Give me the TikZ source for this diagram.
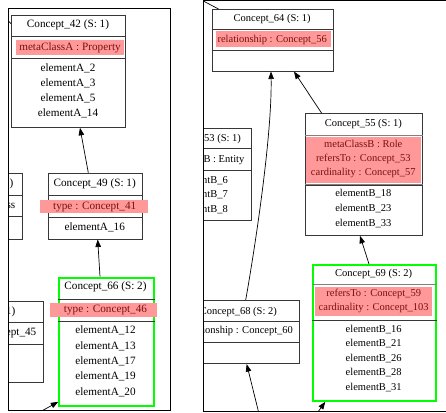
\documentclass[tikz,border=0pt]{standalone}
\usepackage{fontspec}
\setmainfont{Liberation Serif}
\usetikzlibrary{arrows.meta}
\definecolor{hlred}{RGB}{255,153,153}
\definecolor{hltext}{RGB}{125,15,15}
\definecolor{boxgray}{RGB}{55,55,55}
\definecolor{sepgray}{RGB}{128,128,128}
\definecolor{selgreen}{RGB}{0,255,0}

\begin{document}
\begin{tikzpicture}[x=1pt, y=-1pt, font=\fontsize{11.2}{15}\selectfont,
  concept/.style={draw=boxgray, line width=0.8pt, inner sep=0pt, anchor=north west},
  selected/.style={draw=selgreen, line width=1.8pt},
  lbl/.style={inner sep=0pt, text height=7.5pt, text depth=2.5pt},
  attr/.style={lbl, text=hltext},
  hl/.style={fill=hlred},
  sep/.style={draw=boxgray, line width=0.8pt},
  thicksep/.style={draw=sepgray, line width=1.6pt},
  edge/.style={line width=0.7pt, -{Triangle[length=7.5pt, width=5.5pt]}},
  frame/.style={line width=0.8pt}]
\useasboundingbox (0,0) rectangle (446,412);

% left cut-out
\begin{scope}
\clip (8,8) rectangle (170.5,410.5);
% Concept_42
\node[concept, minimum width=114pt, minimum height=112.3pt] (c42) at (11,14.7) {};
\draw[sep] ([yshift=-22pt]c42.north west) -- ([yshift=-22pt]c42.north east);
\draw[sep] ([yshift=-44pt]c42.north west) -- ([yshift=-44pt]c42.north east);
\fill[hl] (16,40) rectangle (124,55);
\node[lbl] (c42t) at (68,25.5) {Concept\_42 (S: 1)};
\node[attr] (c42a) at (70,47.5) {metaClassA : Property};
\foreach \e [count=\i] in {2,3,5,14}
  \node[lbl] (c42e\i) at (68,54.3+15*\i) {elementA\_\e};
% Concept_49
\node[concept, minimum width=94pt, minimum height=66pt] (c49) at (47.7,172.7) {};
\draw[sep] ([yshift=-22.6pt]c49.north west) -- ([yshift=-22.6pt]c49.north east);
\draw[sep] ([yshift=-44.6pt]c49.north west) -- ([yshift=-44.6pt]c49.north east);
\fill[hl] (40,200) rectangle (147.7,213.3);
\node[lbl] (c49t) at (94.7,183.8) {Concept\_49 (S: 1)};
\node[attr] (c49a) at (94.7,206.6) {type : Concept\_41};
\node[lbl] (c49e1) at (94.7,227.8) {elementA\_16};
% box cut by the left edge
\node[concept, anchor=north east, minimum width=100pt, minimum height=66pt] (cL1) at (22.7,172.7) {};
\draw[sep] ([yshift=-22.6pt]cL1.north west) -- ([yshift=-22.6pt]cL1.north east);
\draw[sep] ([yshift=-44pt]cL1.north west) -- ([yshift=-44pt]cL1.north east);
\node[lbl, anchor=east] (cL1t) at (13.5,183.8) {(S: 1)};
\node[lbl, anchor=east] (cL1a) at (15.5,206.4) {Class};
% Concept_66
\node[concept, selected, minimum width=94.4pt, minimum height=128.3pt] (c66) at (58.3,276.7) {};
\draw[sep] ([yshift=-22.6pt]c66.north west) -- ([yshift=-22.6pt]c66.north east);
\draw[sep] ([yshift=-44.3pt]c66.north west) -- ([yshift=-44.3pt]c66.north east);
\fill[hl] (50,303.3) rectangle (157.3,316.7);
\node[lbl] (c66t) at (105.5,287.3) {Concept\_66 (S: 2)};
\node[attr] (c66a) at (105.5,310.2) {type : Concept\_46};
\foreach \e [count=\i] in {12,13,17,19,20}
  \node[lbl] (c66e\i) at (105.5,315.8+15.4*\i) {elementA\_\e};
% box cut by the left edge
\node[concept, anchor=north east, minimum width=120pt, minimum height=81pt] (cL2) at (43.3,300.7) {};
\draw[sep] ([yshift=-21.6pt]cL2.north west) -- ([yshift=-21.6pt]cL2.north east);
\draw[sep] ([yshift=-43.6pt]cL2.north west) -- ([yshift=-43.6pt]cL2.north east);
\node[lbl, anchor=east] (cL2t) at (15.5,312) {(S: 1)};
\node[lbl, anchor=east] (cL2a) at (36.5,333) {Concept\_45};
% connectors
\coordinate (inA) at (38,413);
\coordinate (outA) at (2,14);
\draw[edge] ([xshift=40.6pt]c49.north west) -- ([xshift=69pt]c42.south west);
\draw[edge] ([xshift=41.7pt]c66.north west) -- ([xshift=50pt]c49.south west);
\draw[edge] (inA) -- ([yshift=5pt]c66.south west);
\draw[line width=0.7pt] (outA) -- ([yshift=-9pt]c42.north west);
\end{scope}
\draw[frame] (8,8) rectangle (170.5,410.5);

% right cut-out
\begin{scope}[font=\fontsize{10.5}{14.5}\selectfont]
\clip (203,0.5) rectangle (446,411);
% Concept_64
\node[concept, minimum width=121pt, minimum height=61.7pt] (c64) at (211.7,9) {};
\draw[sep] ([yshift=-20pt]c64.north west) -- ([yshift=-20pt]c64.north east);
\draw[sep] ([yshift=-41pt]c64.north west) -- ([yshift=-41pt]c64.north east);
\fill[hl] (215.7,31.3) rectangle (330.7,47.3);
\node[lbl] (c64t) at (272.2,18.8) {Concept\_64 (S: 1)};
\node[attr] (c64a) at (272.2,39.8) {relationship : Concept\_56};
% Concept_53, cut by the left edge
\node[concept, minimum width=97.2pt, minimum height=91.7pt] (c53) at (153.8,128.3) {};
\draw[sep] ([yshift=-20pt]c53.north west) -- ([yshift=-20pt]c53.north east);
\draw[sep] ([yshift=-41.7pt]c53.north west) -- ([yshift=-41.7pt]c53.north east);
\node[lbl] (c53t) at (202.4,139.3) {Concept\_53 (S: 1)};
\node[lbl] (c53a) at (202.4,159.6) {metaClassB : Entity};
\foreach \e [count=\i] in {6,7,8}
  \node[lbl] (c53e\i) at (202.4,166.1+14.5*\i) {elementB\_\e};
% Concept_55
\node[concept, minimum width=116.7pt, minimum height=121.7pt] (c55) at (305,113.3) {};
\fill[hl] (305.7,136.7) rectangle (420.7,183.3);
\draw[thicksep] ([yshift=-22pt]c55.north west) -- ([yshift=-22pt]c55.north east);
\draw[thicksep] ([yshift=-71.4pt]c55.north west) -- ([yshift=-71.4pt]c55.north east);
\draw[sep] ([yshift=-72.3pt]c55.north west) -- ([yshift=-72.3pt]c55.north east);
\node[lbl] (c55t) at (363.3,124.3) {Concept\_55 (S: 1)};
\foreach \a [count=\i] in {metaClassB : Role, refersTo : Concept\_53, cardinality : Concept\_57}
  \node[attr] (c55a\i) at (363.3,130.6+14.2*\i) {\a};
\foreach \e [count=\i] in {18,23,33}
  \node[lbl] (c55e\i) at (363.3,179.6+14.7*\i) {elementB\_\e};
% Concept_68, cut by the left edge
\node[concept, minimum width=122pt, minimum height=63.3pt] (c68) at (177.3,300) {};
\draw[sep] ([yshift=-21pt]c68.north west) -- ([yshift=-21pt]c68.north east);
\draw[sep] ([yshift=-42.7pt]c68.north west) -- ([yshift=-42.7pt]c68.north east);
\node[lbl] (c68t) at (238.3,312) {Concept\_68 (S: 2)};
\node[lbl] (c68a) at (238.3,331.3) {relationship : Concept\_60};
% Concept_69
\node[concept, selected, minimum width=122.7pt, minimum height=136pt] (c69) at (312.3,264) {};
\fill[hl] (315,286.7) rectangle (431.7,316);
\draw[thicksep] ([yshift=-20.5pt]c69.north west) -- ([yshift=-20.5pt]c69.north east);
\draw[sep] ([yshift=-56pt]c69.north west) -- ([yshift=-56pt]c69.north east);
\node[lbl] (c69t) at (373.7,273.8) {Concept\_69 (S: 2)};
\foreach \a [count=\i] in {refersTo : Concept\_59, cardinality : Concept\_103}
  \node[attr] (c69a\i) at (373.7,279.3+14.3*\i) {\a};
\foreach \e [count=\i] in {16,21,26,28,31}
  \node[lbl] (c69e\i) at (373.7,315+14.6*\i) {elementB\_\e};
% connectors
\coordinate (inB1) at (258.8,413);
\coordinate (inB2) at (317.2,413);
\coordinate (outB) at (190,-6);
\draw[edge] ([xshift=68.4pt]c68.north west) .. controls (258,230) and (272,130) .. ([xshift=59.3pt]c64.south west);
\draw[edge] ([xshift=16.7pt]c55.north west) -- ([xshift=82.3pt]c64.south west);
\draw[edge] ([xshift=56.7pt]c69.north west) -- ([xshift=55pt]c55.south west);
\draw[edge] (inB1) -- ([xshift=69.4pt]c68.south west);
\draw[edge] (inB2) -- ([xshift=13pt]c69.south west);
\draw[line width=0.7pt] (outB) -- ([xshift=6.8pt]c64.north west);
\end{scope}
\draw[frame] (446,0.5) -- (203,0.5) -- (203,411) -- (446,411);
\end{tikzpicture}
\end{document}
